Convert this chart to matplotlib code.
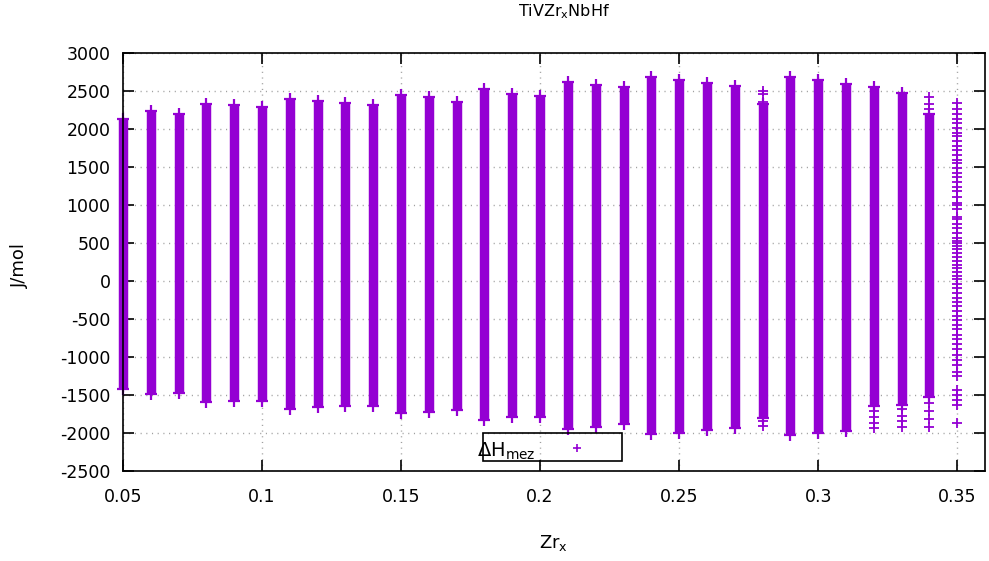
import matplotlib
matplotlib.use("Agg")
import matplotlib.pyplot as plt
from matplotlib.patches import Rectangle
from matplotlib.lines import Line2D
from matplotlib.ticker import FuncFormatter

VIOLET = "#9400D3"

# Zr fraction of each column
zr = [0.05, 0.06, 0.07, 0.08, 0.09, 0.10, 0.11, 0.12, 0.13, 0.14,
      0.15, 0.16, 0.17, 0.18, 0.19, 0.20, 0.21, 0.22, 0.23, 0.24,
      0.25, 0.26, 0.27, 0.28, 0.29, 0.30, 0.31, 0.32, 0.33, 0.34]

# dense part of each column (J/mol)
h_top = [2130, 2240, 2200, 2330, 2310, 2290, 2400, 2370, 2345, 2310,
         2450, 2420, 2360, 2525, 2460, 2430, 2625, 2580, 2550, 2690,
         2645, 2605, 2560, 2330, 2690, 2645, 2595, 2550, 2480, 2200]
h_bot = [-1420, -1490, -1480, -1590, -1580, -1580, -1680, -1660, -1645, -1645,
         -1740, -1720, -1695, -1825, -1795, -1785, -1945, -1915, -1880, -2010,
         -2000, -1965, -1940, -1800, -2030, -2000, -1970, -1640, -1625, -1530]

# single points outside the dense part
pts_028 = [2496, 2458, 2349, -1840, -1913]
pts_032 = [-1643, -1709, -1796, -1862, -1940]
pts_033 = [-1688, -1774, -1840, -1919]
pts_034 = [2420, 2330, 2260, -1600, -1704, -1822, -1927]
pts_035 = [2338, 2267, 2201, 2136, 2083, 2017, 1951, 1907, 1842, 1776,
           1719, 1653, 1587, 1556, 1490, 1424, 1367, 1301, 1240, 1179,
           1108, 1029, 994, 942, 845, 810, 753, 700, 634, 568,
           524, 494, 459, 415, 371, 314, 261, 217, 173, 116,
           64, 20, -33, -90, -156, -222, -279, -332, -389, -454,
           -507, -573, -630, -705, -762, -823, -893, -968, -1034, -1100,
           -1201, -1253, -1429, -1495, -1569, -1627, -1868]

x_ticks = [0.05, 0.1, 0.15, 0.2, 0.25, 0.3, 0.35]
y_ticks = list(range(-2500, 3001, 500))

plt.rcParams["font.family"] = ["DejaVu Sans"]

fig = plt.figure(figsize=(9.89, 5.61), dpi=100)
ax = fig.add_axes([123 / 989, 1 - 471 / 561, (985 - 123) / 989, (471 - 53) / 561])

mk = dict(ls="none", marker="+", ms=8, mew=1.6, color=VIOLET, zorder=3,
          clip_on=False)

ax.vlines(zr, h_bot, h_top, colors=VIOLET, lw=6.8, zorder=3, clip_on=False)
ax.plot(zr, h_top, **mk)
ax.plot(zr, h_bot, **mk)
for x, pts in [(0.28, pts_028), (0.32, pts_032), (0.33, pts_033),
               (0.34, pts_034), (0.35, pts_035)]:
    ax.plot([x] * len(pts), pts, **dict(mk, ms=7, mew=1.3))

ax.set_xlim(0.05, 0.36)
ax.set_ylim(-2500, 3000)
ax.set_xticks(x_ticks)
ax.set_yticks(y_ticks)
ax.xaxis.set_major_formatter(FuncFormatter(lambda v, p: "%g" % v))
ax.yaxis.set_major_formatter(FuncFormatter(lambda v, p: "%d" % v))
ax.tick_params(direction="in", length=8, width=1.2, top=True, right=True,
               labelsize=12.5, colors="black")
ax.tick_params(axis="x", pad=12)
ax.tick_params(axis="y", pad=9)
ax.grid(True, color="#a0a0a0", lw=1.0, ls=(0, (0.8, 3.3)), zorder=0)
for s in ax.spines.values():
    s.set_linewidth(1.2)
    s.set_zorder(4)

fig.text(564 / 989, 1 - 12 / 561, "TiVZr$_\\mathrm{x}$NbHf", ha="center",
         va="center", fontsize=11.5)
fig.text(553 / 989, 1 - 543 / 561, "Zr$_\\mathrm{x}$", ha="center", va="center",
         fontsize=13)
fig.text(20 / 989, 1 - 266 / 561, "J/mol", rotation=90, ha="center",
         va="center", fontsize=13)

# key box
fig.patches.append(Rectangle((483 / 989, 1 - 461 / 561), 139 / 989, 28 / 561,
                             fill=False, ec="black", lw=1.2,
                             transform=fig.transFigure, zorder=5))
fig.text(536 / 989, 1 - 457 / 561, "$\\Delta$H$_\\mathrm{mez}$", ha="right",
         va="baseline", fontsize=14)
fig.lines.append(Line2D([577 / 989], [1 - 448 / 561], marker="+", ms=6, mew=1.2,
                        color=VIOLET, transform=fig.transFigure))

fig.savefig("out.png", dpi=100)
